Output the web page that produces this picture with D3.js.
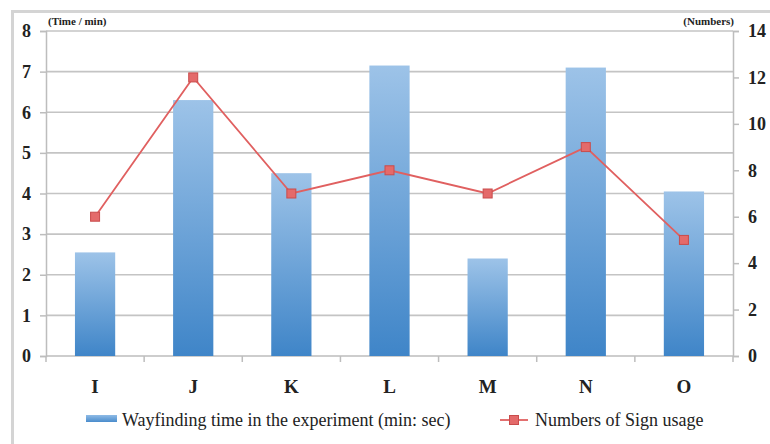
<!DOCTYPE html>
<html>
<head>
<meta charset="utf-8">
<script src="https://cdn.jsdelivr.net/npm/d3@7"></script>
<style>
  html, body { margin: 0; padding: 0; background: #fff; }
  svg { display: block; }
  #chart text { font-family: "Liberation Serif", "Times New Roman", serif !important; }
</style>
</head>
<body>
<svg id="chart" width="770" height="444" font-family="Liberation Serif">
  <rect x="12.5" y="11.5" width="770" height="444" fill="#fff" stroke="#d4d4d4" stroke-width="3"></rect>
  <g id="layers"></g>
  <text x="48" y="25" font-size="11" font-weight="bold" fill="#222" style="font-family:'Liberation Serif' !important">(Time / min)</text>
  <text x="734" y="25" font-size="11" font-weight="bold" fill="#222" text-anchor="end" style="font-family:'Liberation Serif' !important">(Numbers)</text>
  <text x="122" y="426" font-size="18" fill="#222" style="font-family:'Liberation Serif' !important">Wayfinding time in the experiment (min: sec)</text>
  <text x="535" y="426" font-size="18" fill="#222" style="font-family:'Liberation Serif' !important">Numbers of Sign usage</text>
</svg>
<script>
// Participants
const categories = ["I", "J", "K", "L", "M", "N", "O"];
// Wayfinding time (minutes), left axis
const wayfindingTime = [2.55, 6.3, 4.5, 7.15, 2.4, 7.1, 4.05];
// Sign usage count, right axis
const signUsage = [6, 12, 7, 8, 7, 9, 5];
const leftTicks = [0, 1, 2, 3, 4, 5, 6, 7, 8];
const rightTicks = [0, 2, 4, 6, 8, 10, 12, 14];

const serif = "'Liberation Serif', 'Times New Roman', serif";
const ink = "#222";
const svg = d3.select("#layers");
const plot = { left: 46, right: 733, top: 31, bottom: 356 };

const x = d3.scaleBand().domain(categories).range([plot.left, plot.right]).paddingInner(0.59).paddingOuter(0.295);
const xCenter = d => x(d) + x.bandwidth() / 2;
const yL = d3.scaleLinear().domain([0, 8]).range([plot.bottom, plot.top]);
const yR = d3.scaleLinear().domain([0, 14]).range([plot.bottom, plot.top]);

// gradients for bars and legend swatch
const defs = svg.append("defs");
const grad = defs.append("linearGradient").attr("id", "barGrad")
  .attr("x1", 0).attr("y1", 0).attr("x2", 0).attr("y2", 1);
grad.append("stop").attr("offset", "0%").attr("stop-color", "#9dc3e8");
grad.append("stop").attr("offset", "100%").attr("stop-color", "#3f85c8");
const lgrad = defs.append("linearGradient").attr("id", "legGrad")
  .attr("x1", 0).attr("y1", 0).attr("x2", 0).attr("y2", 1);
lgrad.append("stop").attr("offset", "0%").attr("stop-color", "#8fbbe6");
lgrad.append("stop").attr("offset", "100%").attr("stop-color", "#4a8ccc");

// gridlines
svg.append("g").selectAll("line").data(leftTicks.slice(1)).join("line")
  .attr("x1", plot.left).attr("x2", plot.right)
  .attr("y1", d => yL(d)).attr("y2", d => yL(d))
  .attr("stroke", "#c4c4c4").attr("stroke-width", 1.6);

function styleAxis(g) {
  g.attr("font-family", null);
  g.select(".domain").attr("stroke", "#bdbdbd").attr("stroke-width", 1.5);
  g.selectAll(".tick line").attr("stroke", "#bdbdbd").attr("stroke-width", 1.5);
  g.selectAll("text").style("font-family", serif, "important").attr("font-size", 18)
    .attr("font-weight", "bold").attr("fill", ink);
}

// left axis
svg.append("g").attr("transform", `translate(${plot.left},0)`)
  .call(d3.axisLeft(yL).tickValues(leftTicks).tickSize(6).tickPadding(9).tickFormat(d3.format("d")))
  .call(styleAxis);

// right axis
svg.append("g").attr("transform", `translate(${plot.right},0)`)
  .call(d3.axisRight(yR).tickValues(rightTicks).tickSize(6).tickPadding(9).tickFormat(d3.format("d")))
  .call(styleAxis);

// bottom axis line with boundary ticks
const bounds = d3.range(categories.length + 1).map(i => plot.left + i * (plot.right - plot.left) / categories.length);
svg.append("line").attr("x1", plot.left).attr("x2", plot.right)
  .attr("y1", plot.bottom).attr("y2", plot.bottom).attr("stroke", "#bdbdbd").attr("stroke-width", 1.5);
svg.append("g").selectAll("line").data(bounds).join("line")
  .attr("x1", d => d).attr("x2", d => d).attr("y1", plot.bottom).attr("y2", plot.bottom + 6)
  .attr("stroke", "#bdbdbd").attr("stroke-width", 1.5);

// category labels
svg.append("g").selectAll("text").data(categories).join("text")
  .attr("x", d => xCenter(d)).attr("y", 393).attr("text-anchor", "middle")
  .style("font-family", serif, "important").attr("fill", ink)
  .attr("font-size", 19).attr("font-weight", "bold").text(d => d);

// bars
svg.append("g").selectAll("rect").data(wayfindingTime).join("rect")
  .attr("x", (d, i) => x(categories[i]))
  .attr("y", d => yL(d))
  .attr("width", x.bandwidth())
  .attr("height", d => yL(0) - yL(d))
  .attr("fill", "url(#barGrad)");

// line series
const line = d3.line().x((d, i) => xCenter(categories[i])).y(d => yR(d));
svg.append("path").datum(signUsage).attr("d", line)
  .attr("fill", "none").attr("stroke", "#e06060").attr("stroke-width", 1.8);
svg.append("g").selectAll("rect").data(signUsage).join("rect")
  .attr("x", (d, i) => xCenter(categories[i]) - 4.5)
  .attr("y", d => yR(d) - 4.5)
  .attr("width", 9).attr("height", 9)
  .attr("fill", "#e46a6a").attr("stroke", "#c94c4c").attr("stroke-width", 1);

// legend symbols
svg.append("rect").attr("x", 86).attr("y", 415).attr("width", 31).attr("height", 7).attr("fill", "url(#legGrad)");
svg.append("line").attr("x1", 500).attr("x2", 528).attr("y1", 420).attr("y2", 420)
  .attr("stroke", "#e06060").attr("stroke-width", 1.8);
svg.append("rect").attr("x", 509.5).attr("y", 415.5).attr("width", 9).attr("height", 9)
  .attr("fill", "#e46a6a").attr("stroke", "#c94c4c").attr("stroke-width", 1);
</script>
</body>
</html>
